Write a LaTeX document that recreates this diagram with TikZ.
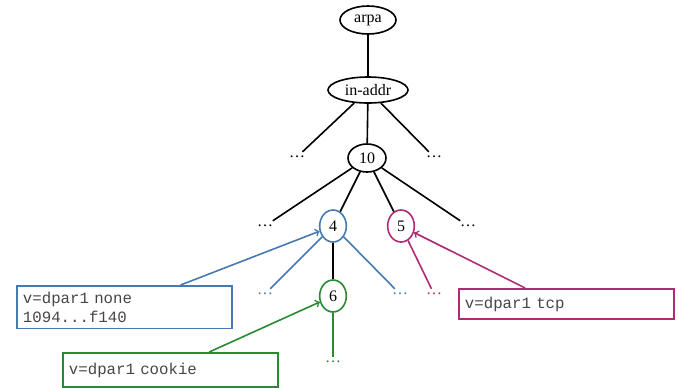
\documentclass[tikz,border=0pt]{standalone}
\usepackage{fontspec}
\setmainfont{Liberation Serif}
\setmonofont{Liberation Mono}
\usetikzlibrary{shapes.geometric,calc}

\definecolor{dnsblue}{RGB}{70,122,176}
\definecolor{dnsmag}{RGB}{176,42,118}
\definecolor{dnsgreen}{RGB}{42,138,52}
\definecolor{boxtext}{RGB}{70,70,70}

\begin{document}
\begin{tikzpicture}[x=0.75pt,y=0.75pt,yscale=-1,xscale=1,
	dom/.style={draw,ellipse,line width=1.2pt,inner sep=0pt,font=\fontsize{12}{14}\selectfont},
	more/.style={inner sep=3pt,font=\fontsize{12}{14}\selectfont},
	info/.style={draw,line width=1.4pt,anchor=north west,align=left,inner sep=4.5pt,text=boxtext,font=\ttfamily\fontsize{11.8}{14.3}\selectfont,minimum height=30pt,text width=152pt},
	link/.style={line width=1.2pt},
	note/.style={line width=1.2pt,->}]
		%uncomment if require: \path (0,387);
		\useasboundingbox (0,0) rectangle (678,387);
		
		% the tree
		\node [dom,minimum width=42pt,minimum height=21pt] (arpa) at (368,20) {arpa};
		\node [dom,minimum width=60pt,minimum height=19.5pt] (inaddr) at (368,90) {in-addr};
		\node [dom,minimum width=28.5pt,minimum height=21pt] (ten) at (367,158) {10};
		\node [more] (dotsa) at (297,157) {\dots};
		\node [more] (dotsb) at (434,157) {\dots};
		
		\node [dom,draw=dnsblue,minimum width=20pt,minimum height=24pt] (four) at (333,226) {4};
		\node [dom,draw=dnsmag,minimum width=20pt,minimum height=24pt] (five) at (401,226) {5};
		\node [more] (dotsc) at (265,226) {\dots};
		\node [more] (dotsd) at (468,226) {\dots};
		
		\node [dom,draw=dnsgreen,minimum width=20pt,minimum height=24pt] (six) at (333,296) {6};
		\node [more,text=dnsblue] (dotse) at (265,294) {\dots};
		\node [more,text=dnsblue] (dotsf) at (400,294) {\dots};
		\node [more,text=dnsmag] (dotsg) at (434,294) {\dots};
		\node [more,text=dnsgreen] (dotsh) at (333,362) {\dots};
		
		\draw [link] (arpa) -- (inaddr) ;
		\draw [link] (inaddr) -- (ten) ;
		\draw [link] (inaddr) -- (dotsa) ;
		\draw [link] (inaddr) -- (dotsb) ;
		\draw [link] (ten) -- (four) ;
		\draw [link] (ten) -- (five) ;
		\draw [link] (ten) -- (dotsc) ;
		\draw [link] (ten) -- (dotsd) ;
		\draw [link] (four) -- (six) ;
		\draw [link,dnsblue] (four) -- (dotse) ;
		\draw [link,dnsblue] (four) -- (dotsf) ;
		\draw [link,dnsmag] (five) -- (dotsg) ;
		\draw [link,dnsgreen] (six) -- (dotsh) ;
		
		% the records
		\node [info,draw=dnsblue] (nonebox) at (16,285) {v=dpar1 none\\1094...f140};
		\node [info,draw=dnsmag,minimum height=22.5pt] (tcpbox) at (458,288) {v=dpar1 tcp};
		\node [info,draw=dnsgreen,minimum height=25.5pt] (cookiebox) at (62,352) {v=dpar1 cookie};
		
		\draw [note,dnsblue] ($(nonebox.north west)!0.76!(nonebox.north east)$) -- (four) ;
		\draw [note,dnsmag] ($(tcpbox.north west)!0.31!(tcpbox.north east)$) -- (five) ;
		\draw [note,dnsgreen] ($(cookiebox.north west)!0.68!(cookiebox.north east)$) -- (six) ;
		
\end{tikzpicture}
\end{document}
